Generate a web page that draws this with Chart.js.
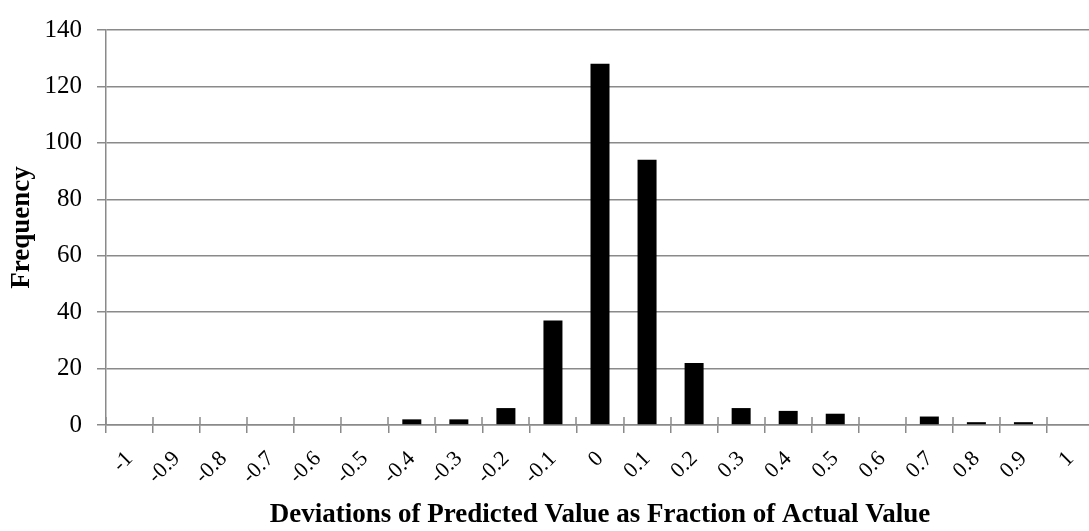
<!DOCTYPE html>
<html>
<head>
<meta charset="utf-8">
<script src="https://cdn.jsdelivr.net/npm/chart.js@4.4.1/dist/chart.umd.min.js"></script>
<style>
  html, body { margin: 0; padding: 0; background: #fff; overflow: hidden; }
  #wrap { width: 1089px; height: 531px; overflow: hidden; }
</style>
</head>
<body>
<div id="wrap"><canvas id="hist" width="1094" height="531"></canvas></div>
<script>
// bins of the deviation histogram
const binLabels = ['-1', '-0.9', '-0.8', '-0.7', '-0.6', '-0.5', '-0.4', '-0.3', '-0.2', '-0.1',
  '0', '0.1', '0.2', '0.3', '0.4', '0.5', '0.6', '0.7', '0.8', '0.9', '1'];
const frequency = [0, 0, 0, 0, 0, 0, 2, 2, 6, 37, 128, 94, 22, 6, 5, 4, 0, 3, 1, 1, 0];
const yTicks = [0, 20, 40, 60, 80, 100, 120, 140];

const AXIS_GRAY = '#8a8a8a';
const SERIF = '"Liberation Serif", "Times New Roman", serif';

// Excel-style "cross" tick marks: extend the bin boundary ticks up past the axis line
const crossTicks = {
  id: 'crossTicks',
  afterDraw(chart) {
    const x = chart.scales.x;
    const { ctx, chartArea } = chart;
    ctx.save();
    ctx.strokeStyle = AXIS_GRAY;
    ctx.lineWidth = 1.5;
    ctx.beginPath();
    for (let k = 0; k <= binLabels.length; k++) {
      const px = Math.round(x.getPixelForValue(k - 0.5));
      ctx.moveTo(px, chartArea.bottom - 8);
      ctx.lineTo(px, chartArea.bottom);
    }
    ctx.stroke();
    ctx.restore();
  },
};

Chart.defaults.color = '#000';
Chart.defaults.font.family = SERIF;

new Chart(document.getElementById('hist'), {
  type: 'bar',
  data: {
    labels: binLabels,
    datasets: [{
      label: 'Frequency',
      data: frequency,
      backgroundColor: '#000',
      borderWidth: 0,
      categoryPercentage: 1,
      barPercentage: 0.404,
    }],
  },
  options: {
    responsive: false,
    animation: false,
    devicePixelRatio: 1,
    layout: { padding: { top: 17, right: 0, left: 0, bottom: 0 } },
    plugins: { legend: { display: false }, tooltip: { enabled: false } },
    scales: {
      x: {
        afterFit(scale) {
          scale.height = 106;
          // rotated labels would otherwise shrink the plot horizontally
          scale.paddingLeft = 0;
          scale.paddingRight = 0;
        },
        border: { color: AXIS_GRAY, width: 1.5 },
        grid: { drawOnChartArea: false, color: AXIS_GRAY, lineWidth: 1.5, tickLength: 8, offset: true },
        ticks: { autoSkip: false, minRotation: 45, maxRotation: 45, padding: 13, font: { size: 22 } },
        title: {
          display: true,
          text: 'Deviations of Predicted Value as Fraction of Actual Value',
          font: { size: 27, weight: 'bold' },
          padding: { top: 0, bottom: 0 },
        },
      },
      y: {
        min: 0,
        max: 140,
        afterFit(scale) { scale.width = 106; },
        afterBuildTicks(scale) { scale.ticks = yTicks.map(v => ({ value: v })); },
        border: { color: AXIS_GRAY, width: 1.5 },
        grid: { color: AXIS_GRAY, lineWidth: 1.5, tickLength: 9 },
        ticks: { padding: 15, font: { size: 25 } },
        title: {
          display: true,
          text: 'Frequency',
          font: { size: 27, weight: 'bold' },
          padding: { top: 6, bottom: 0 },
        },
      },
    },
  },
  plugins: [crossTicks],
});
</script>
</body>
</html>
